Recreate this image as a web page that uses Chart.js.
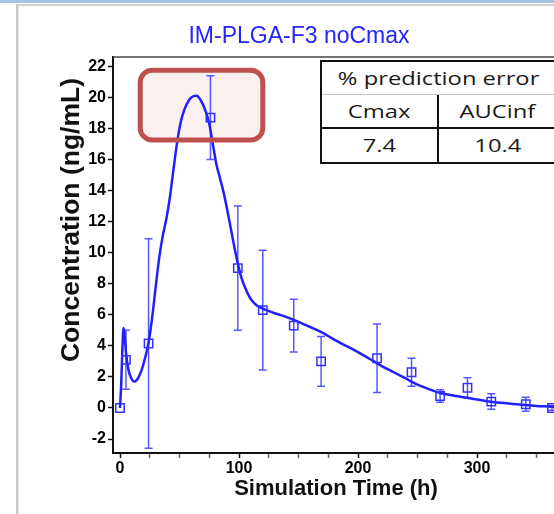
<!DOCTYPE html>
<html><head><meta charset="utf-8">
<script src="https://cdn.jsdelivr.net/npm/chart.js@4.4.0/dist/chart.umd.min.js"></script>
<style>
html,body{margin:0;padding:0;background:#fff;overflow:hidden;width:554px;height:514px;}
#wrap{position:relative;width:554px;height:514px;overflow:hidden;}
canvas{position:absolute;left:0;top:0;}
.fr{position:absolute;}
#tbl{position:absolute;left:320px;top:60px;width:238px;border:2px solid #111;box-sizing:border-box;background:#fff;
 font-family:'Open Sans',sans-serif;font-size:19px;color:#1a1a1a;}
#tbl .hd{height:32px;line-height:32px;text-align:center;border-bottom:1px solid #c4c4c4;}
#tbl .row{display:flex;}
#tbl .c{box-sizing:border-box;text-align:center;}
#tbl span{display:inline-block;transform:scaleX(1.25);transform-origin:50% 50%;}
</style></head>
<body><div id="wrap">
<div class="fr" style="left:0;top:0;width:554px;height:3px;background:#a6c4ea"></div>
<div class="fr" style="left:16px;top:4px;width:538px;height:2px;background:#cfcfcf"></div>
<div class="fr" style="left:16px;top:4px;width:2px;height:510px;background:#c8c8c8"></div>
<div class="fr" style="left:18px;top:6px;width:1px;height:508px;background:#e6e6e6"></div>
<canvas id="c" width="620" height="514"></canvas>
<div id="tbl"></div>
</div>
<script>
// ---- data ----
const chartTitle = 'IM-PLGA-F3 noCmax';
const xTitle = 'Simulation Time (h)';
const yTitle = 'Concentration (ng/mL)';
const xTickValues = [0,25,50,75,100,125,150,175,200,225,250,275,300,325,350,375,400];
const xTickLabels = ['0','','','','100','','','','200','','','','300','','','','400'];
const yTickValues = [-2,0,2,4,6,8,10,12,14,16,18,20,22];

const simTime = [0,1,2,3,4,5,7,9,12,15,18,21,24,27,30,33,36,39,42,45,48,51,54,57,60,64,68,72,75,78,81,84,87,90,93,96,99,102,106,110,115,120,130,140,150,160,170,180,190,200,210,220,230,240,250,260,270,280,290,300,310,320,330,340,350,360,365];
const simConc = [0,1.5,3.8,5.15,4.6,3.6,2.5,2.0,1.7,1.9,2.4,3.2,4.2,5.8,7.8,9.7,11.1,12.2,13.6,15.4,17.1,18.4,19.2,19.7,20.0,20.1,19.8,19.1,18.3,17.0,15.7,14.8,13.9,12.8,11.6,10.4,9.3,8.4,7.6,7.0,6.6,6.4,6.1,5.85,5.55,5.2,4.85,4.4,4.0,3.6,3.15,2.7,2.3,1.9,1.5,1.2,0.95,0.8,0.67,0.55,0.42,0.33,0.26,0.19,0.13,0.09,0.07];

const obsTime = [0,5,24,76,99,120,146,169,216,245,269,292,312,341,363];
const obsConc = [0,3.1,4.15,18.7,9.0,6.3,5.3,3.0,3.2,2.3,0.77,1.3,0.41,0.24,0.0];
const obsErr  = [0,1.9,6.75,2.7,4.0,3.85,1.7,1.6,2.2,0.9,0.4,0.65,0.5,0.45,0.15];

const highlightX = [17, 120];
const highlightY = [17.25, 21.75];

const tableHeader = '% prediction error';
const tableCols = ['Cmax','AUCinf'];
const tableVals = ['7.4','10.4'];

// ---- table ----
(function(){
  const t = document.getElementById('tbl');
  const mk=(txt)=>{const s=document.createElement('span');s.textContent=txt;return s;};
  const hd = document.createElement('div'); hd.className='hd'; hd.appendChild(mk(tableHeader)); t.appendChild(hd);
  const r1 = document.createElement('div'); r1.className='row'; r1.style.borderBottom='2px solid #111';
  const r2 = document.createElement('div'); r2.className='row';
  const widths=[117,117];
  tableCols.forEach((c,i)=>{const d=document.createElement('div');d.className='c';d.style.width=widths[i]+'px';d.style.height='32px';d.style.lineHeight='32px';if(i==0)d.style.borderRight='2px solid #111';d.appendChild(mk(c));r1.appendChild(d);});
  tableVals.forEach((c,i)=>{const d=document.createElement('div');d.className='c';d.style.width=widths[i]+'px';d.style.height='33px';d.style.lineHeight='33px';if(i==0)d.style.borderRight='2px solid #111';d.appendChild(mk(c));r2.appendChild(d);});
  t.appendChild(r1); t.appendChild(r2);
})();

const BLUE='#1f1fff';
const overlay = {
  id:'overlay',
  beforeDatasetsDraw(chart){
    const {ctx, scales:{x,y}} = chart;
    const x0=x.getPixelForValue(highlightX[0]), x1=x.getPixelForValue(highlightX[1]);
    const y0=y.getPixelForValue(highlightY[1]), y1=y.getPixelForValue(highlightY[0]);
    ctx.save();
    ctx.beginPath(); ctx.roundRect(x0,y0,x1-x0,y1-y0,12);
    ctx.fillStyle='rgba(200,90,90,0.09)'; ctx.fill();
    ctx.restore();
    ctx.save();
    ctx.strokeStyle='rgba(45,45,255,0.8)'; ctx.lineWidth=1.5;
    obsTime.forEach((t,i)=>{
      const e=obsErr[i]; if(!e) return;
      const px=x.getPixelForValue(t), pt=y.getPixelForValue(obsConc[i]+e), pb=y.getPixelForValue(obsConc[i]-e);
      ctx.beginPath();
      ctx.moveTo(px,pt); ctx.lineTo(px,pb);
      ctx.moveTo(px-4,pt); ctx.lineTo(px+4,pt);
      ctx.moveTo(px-4,pb); ctx.lineTo(px+4,pb);
      ctx.stroke();
    });
    ctx.restore();
  },
  afterDatasetsDraw(chart){
    const {ctx, scales:{x,y}} = chart;
    const x0=x.getPixelForValue(highlightX[0]), x1=x.getPixelForValue(highlightX[1]);
    const y0=y.getPixelForValue(highlightY[1]), y1=y.getPixelForValue(highlightY[0]);
    ctx.save();
    ctx.beginPath(); ctx.roundRect(x0,y0,x1-x0,y1-y0,12);
    ctx.strokeStyle='#c0504d'; ctx.lineWidth=5; ctx.stroke();
    ctx.restore();
  },
  afterDraw(chart){
    const {ctx, chartArea:a} = chart;
    ctx.save();
    ctx.strokeStyle='#444'; ctx.lineWidth=1.5;
    ctx.beginPath(); ctx.moveTo(a.left,a.top); ctx.lineTo(a.right,a.top); ctx.stroke();
    ctx.fillStyle='#2424ff'; ctx.textAlign='center'; ctx.textBaseline='middle';
    ctx.font='23px "Liberation Sans", Arial, sans-serif';
    ctx.fillText(chartTitle, 299, 37);
    ctx.fillStyle='#111';
    ctx.font='bold 22px "Liberation Sans", Arial, sans-serif';
    ctx.fillText(xTitle, 336, 489);
    ctx.translate(72,220); ctx.rotate(-Math.PI/2);
    ctx.font='bold 26.5px "Liberation Sans", Arial, sans-serif';
    ctx.fillText(yTitle, 0, 0);
    ctx.restore();
  }
};

const chart = new Chart(document.getElementById('c'), {
  data:{
    datasets:[
      {type:'scatter', data:obsTime.map((t,i)=>({x:t,y:obsConc[i]})), pointStyle:'rect', pointRadius:5.9, pointHoverRadius:5.9,
        borderColor:'#3030ff', backgroundColor:'rgba(0,0,0,0)', pointBorderWidth:1.5, order:0},
      {type:'line', data:simTime.map((t,i)=>({x:t,y:simConc[i]})), borderColor:BLUE, borderWidth:2.5, pointRadius:0,
        tension:0.4, cubicInterpolationMode:'monotone', fill:false, order:1}
    ]
  },
  options:{
    responsive:false, animation:false, events:[],
    layout:{padding:{left:0,top:57,right:0,bottom:0}},
    plugins:{legend:{display:false}, title:{display:false}, tooltip:{enabled:false}},
    scales:{
      x:{type:'linear', min:-6, max:420,
        afterBuildTicks(s){ s.ticks = xTickValues.map(v=>({value:v})); },
        afterFit(s){ s.height=61; s.paddingLeft=0; s.paddingRight=0; },
        ticks:{autoSkip:false, maxRotation:0, padding:1, color:'#000',
          font:{family:'"Liberation Sans", Arial, sans-serif', size:16, weight:'bold'},
          callback(v,i){ return xTickLabels[i]; }},
        grid:{drawOnChartArea:false, tickLength:5, tickWidth:1.5, color(c){ return (c.tick && c.tick.value%100===0)?'#111':'#666'; }},
        border:{color:'#111', width:2}
      },
      y:{type:'linear', min:-2.9, max:22.6,
        afterBuildTicks(s){ s.ticks = yTickValues.map(v=>({value:v})); },
        afterFit(s){ s.width=113; s.paddingTop=0; s.paddingBottom=0; },
        ticks:{autoSkip:false, padding:2, color:'#000',
          font:{family:'"Liberation Sans", Arial, sans-serif', size:16, weight:'bold'}},
        grid:{drawOnChartArea:false, tickLength:5, tickWidth:1.5, color:'#111'},
        border:{color:'#111', width:2}
      }
    }
  },
  plugins:[overlay]
});
// the reference plot is cut off at the window edge; pick the axis end so that 0 h and 300 h land where they do there
const PX_PER_H = 357/300, X0_PX = 120;
const a0 = chart.chartArea;
chart.options.scales.x.min = -(X0_PX - a0.left)/PX_PER_H;
chart.options.scales.x.max = chart.options.scales.x.min + (a0.right - a0.left)/PX_PER_H;
chart.update();
</script>
</body></html>
